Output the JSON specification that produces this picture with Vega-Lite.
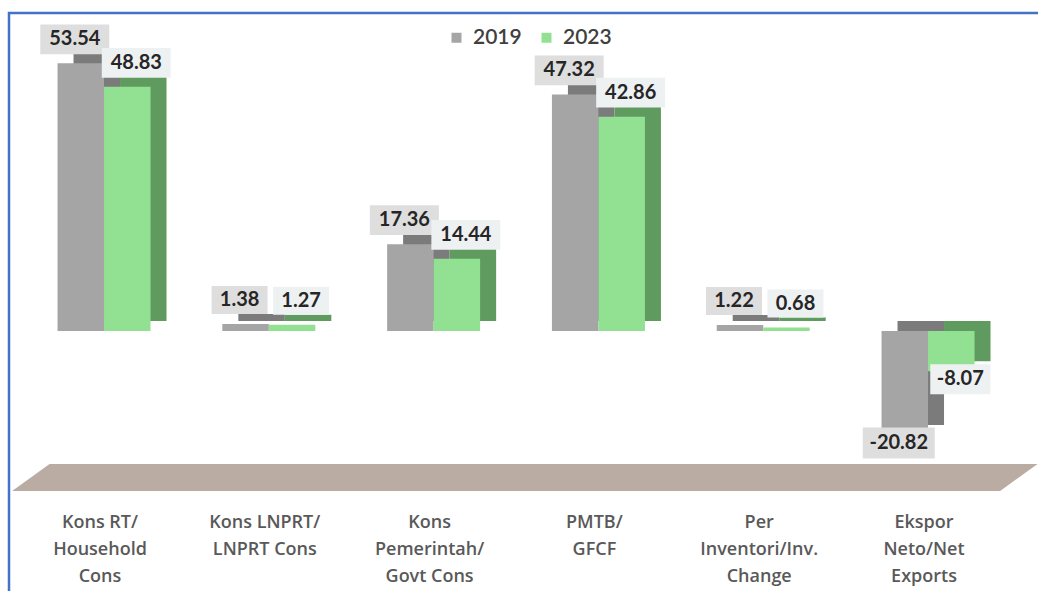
{
  "$schema": "https://vega.github.io/schema/vega-lite/v6.json",
  "autosize": {"type": "none"},
  "width": 1040,
  "height": 590,
  "padding": {"left": 9, "top": 13, "right": 0, "bottom": 0},
  "background": "white",
  "config": {
    "view": {"stroke": "#4472c4", "strokeWidth": 2.5},
    "font": "Lato",
    "locale": {"number": {"decimal": ".", "thousands": ",", "grouping": [3], "currency": ["", ""], "minus": "-"}}
  },
  "datasets": {
    "gdp": [
      {"cat": "Kons RT/|Household|Cons", "year": "2019", "value": 53.54},
      {"cat": "Kons RT/|Household|Cons", "year": "2023", "value": 48.83},
      {"cat": "Kons LNPRT/|LNPRT Cons", "year": "2019", "value": 1.38},
      {"cat": "Kons LNPRT/|LNPRT Cons", "year": "2023", "value": 1.27},
      {"cat": "Kons|Pemerintah/|Govt Cons", "year": "2019", "value": 17.36},
      {"cat": "Kons|Pemerintah/|Govt Cons", "year": "2023", "value": 14.44},
      {"cat": "PMTB/|GFCF", "year": "2019", "value": 47.32},
      {"cat": "PMTB/|GFCF", "year": "2023", "value": 42.86},
      {"cat": "Per|Inventori/Inv.|Change", "year": "2019", "value": 1.22},
      {"cat": "Per|Inventori/Inv.|Change", "year": "2023", "value": 0.68},
      {"cat": "Ekspor|Neto/Net|Exports", "year": "2019", "value": -20.82},
      {"cat": "Ekspor|Neto/Net|Exports", "year": "2023", "value": -8.07}
    ],
    "floor": [
      {"pos": 0.003, "top": -32.0, "bottom": -32.0},
      {"pos": 0.039, "top": -26.6, "bottom": -32.0},
      {"pos": 0.953, "top": -26.6, "bottom": -32.0},
      {"pos": 0.989, "top": -26.6, "bottom": -26.6}
    ]
  },
  "layer": [
    {
      "data": {"name": "floor"},
      "mark": {"type": "area", "color": "#baaca2", "opacity": 1},
      "encoding": {
        "x": {"field": "pos", "type": "quantitative", "scale": {"domain": [0, 1], "nice": false, "zero": false}, "axis": null},
        "y": {"field": "top", "type": "quantitative", "scale": {"domain": [-54.4, 63.6], "nice": false, "zero": false}, "axis": null},
        "y2": {"field": "bottom"}
      }
    },
    {
      "data": {"name": "gdp"},
      "encoding": {
        "x": {
          "field": "cat", "type": "nominal", "sort": null,
          "scale": {"range": [12.6, 1001.4], "paddingInner": 0.436, "paddingOuter": 0.218},
          "axis": {
            "orient": "bottom", "offset": -96, "labelPadding": 6, "domain": false, "ticks": false, "tickSize": 0,
            "title": null, "labelAngle": 0, "labelBaseline": "top",
            "labelExpr": "split(datum.label, '|')",
            "labelFont": "Open Sans", "labelFontSize": 18, "labelFontWeight": 600, "labelColor": "#595959",
            "labelLineHeight": 27, "labelLimit": 220, "labelOffset": -4
          }
        },
        "y": {"field": "value", "type": "quantitative", "scale": {"domain": [-54.4, 63.6], "nice": false, "zero": false}, "axis": null}
      },
      "layer": [
        {
          "mark": {"type": "bar", "yOffset": -10, "y2Offset": -10},
          "encoding": {
            "xOffset": {"field": "year", "type": "nominal", "sort": ["2019", "2023"], "scale": {"range": [16, 109]}},
            "color": {"condition": {"test": "datum.year == '2019'", "value": "#7b7b7b"}, "value": "#5f9b5f"}
          }
        },
        {
          "mark": {"type": "bar"},
          "encoding": {
            "xOffset": {"field": "year", "type": "nominal", "sort": ["2019", "2023"], "scale": {"range": [0, 93]}},
            "color": {
              "field": "year", "type": "nominal",
              "scale": {"domain": ["2019", "2023"], "range": ["#a5a5a5", "#92e092"]},
              "legend": {
                "orient": "none", "legendX": 437, "legendY": 14, "direction": "horizontal",
                "title": null, "symbolType": "square", "symbolSize": 100, "symbolStrokeWidth": 0,
                "labelFont": "Lato", "labelFontSize": 21, "labelFontWeight": 600, "labelColor": "#404040",
                "labelOffset": 6, "columnPadding": 14, "padding": 0
              }
            }
          }
        },
        {
          "transform": [{"filter": "datum.value >= 0"}],
          "mark": {"type": "point", "filled": true, "opacity": 1, "strokeWidth": 0, "yOffset": -24},
          "encoding": {
            "xOffset": {"field": "year", "type": "nominal", "sort": ["2019", "2023"], "scale": {"range": [-13.5, 109.5]}},
            "shape": {"condition": {"test": "abs(datum.value) < 10", "value": "M-1,-0.5L1,-0.5L1,0.5L-1,0.5Z"}, "value": "M-1,-0.43L1,-0.43L1,0.43L-1,0.43Z"},
            "size": {"condition": {"test": "abs(datum.value) < 10", "value": 3136}, "value": 4761},
            "color": {"condition": {"test": "datum.year == '2019'", "value": "#dedede"}, "value": "#eef1f2"}
          }
        },
        {
          "transform": [{"filter": "datum.value >= 0"}],
          "mark": {"type": "text", "font": "Lato", "fontWeight": "bold", "fontSize": 20, "color": "#262626", "baseline": "middle", "yOffset": -24},
          "encoding": {
            "xOffset": {"field": "year", "type": "nominal", "sort": ["2019", "2023"], "scale": {"range": [-13.5, 109.5]}},
            "text": {"field": "value", "type": "quantitative", "format": ".2f"}
          }
        },
        {
          "transform": [{"filter": "datum.value < 0"}],
          "mark": {"type": "point", "filled": true, "opacity": 1, "strokeWidth": 0, "yOffset": 8},
          "encoding": {
            "xOffset": {"field": "year", "type": "nominal", "sort": ["2019", "2023"], "scale": {"range": [-13.5, 109.5]}},
            "shape": {"condition": {"test": "abs(datum.value) < 10", "value": "M-1,-0.5L1,-0.5L1,0.5L-1,0.5Z"}, "value": "M-1,-0.43L1,-0.43L1,0.43L-1,0.43Z"},
            "size": {"condition": {"test": "abs(datum.value) < 10", "value": 3600}, "value": 5184},
            "color": {"condition": {"test": "datum.year == '2019'", "value": "#dedede"}, "value": "#eef1f2"}
          }
        },
        {
          "transform": [{"filter": "datum.value < 0"}],
          "mark": {"type": "text", "font": "Lato", "fontWeight": "bold", "fontSize": 20, "color": "#262626", "baseline": "middle", "yOffset": 8},
          "encoding": {
            "xOffset": {"field": "year", "type": "nominal", "sort": ["2019", "2023"], "scale": {"range": [-13.5, 109.5]}},
            "text": {"field": "value", "type": "quantitative", "format": ".2f"}
          }
        }
      ],
      "resolve": {"scale": {"xOffset": "independent"}}
    }
  ],
  "resolve": {"scale": {"x": "independent"}}
}
